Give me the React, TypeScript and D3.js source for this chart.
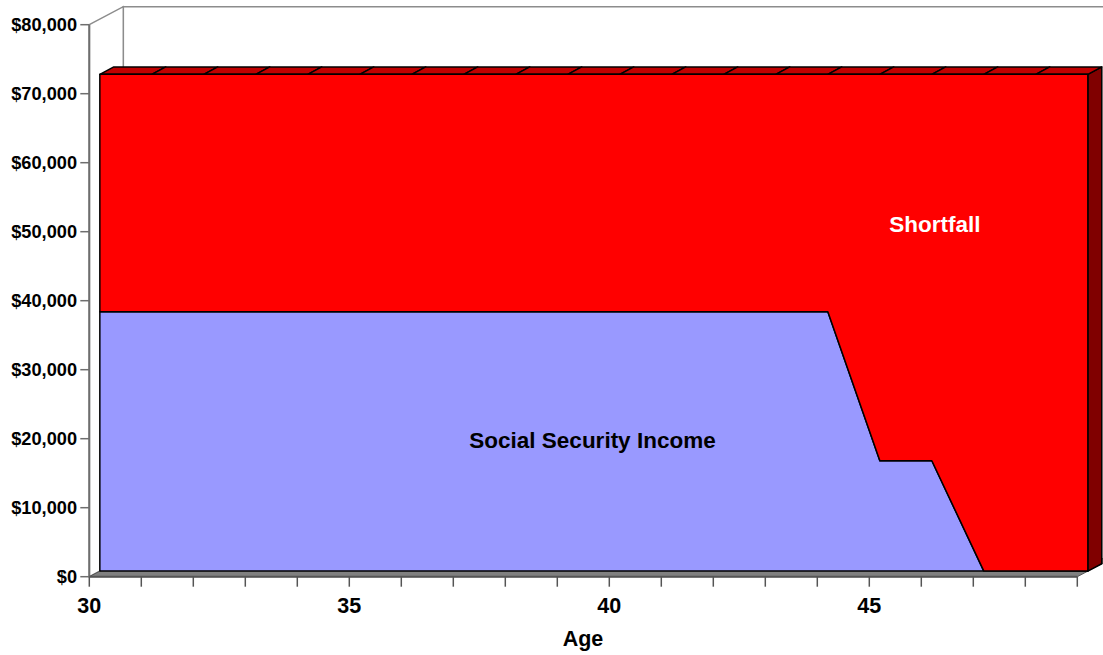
import React from "react";
import * as d3 from "d3";

const ages = [30, 31, 32, 33, 34, 35, 36, 37, 38, 39, 40, 41, 42, 43, 44, 45, 46, 47, 48, 49];
const socialSecurity = [37600, 37600, 37600, 37600, 37600, 37600, 37600, 37600, 37600, 37600, 37600, 37600, 37600, 37600, 37600, 16000, 16000, 0, 0, 0];
const shortfall = [34400, 34400, 34400, 34400, 34400, 34400, 34400, 34400, 34400, 34400, 34400, 34400, 34400, 34400, 34400, 56000, 56000, 72000, 72000, 72000];
const yTicks = [0, 10000, 20000, 30000, 40000, 50000, 60000, 70000, 80000];
const xTickLabels = [30, 35, 40, 45];
const seriesNames = ["Social Security Income", "Shortfall"];

const W = 1103;
const H = 655;
const DX = 34;
const DY = -18;
const FRONT = 0.31;
const BACK = 0.72;
const FONT = "'Liberation Sans', Arial, Helvetica, sans-serif";

export default function App() {
  const x = d3.scaleLinear().domain([30, 49]).range([89.3, 1077.3]);
  const y = d3.scaleLinear().domain([0, 80000]).range([576.7, 24.7]);
  const off = (d: number) => [DX * d, DY * d];
  const [fx, fy] = off(FRONT);
  const [bx, by] = off(BACK);

  const rows = ages.map((a, i) => ({ age: a, ss: socialSecurity[i], sf: shortfall[i] }));
  const stack = d3.stack<any>().keys(["ss", "sf"]);
  const stacked = stack(rows);

  const area = d3
    .area<any>()
    .x((d) => x(d.data.age) + fx)
    .y0((d) => y(d[0]) + fy)
    .y1((d) => y(d[1]) + fy);

  const colors = ["#9999FF", "#FF0000"];
  const top = stacked[1];

  const pt = (age: number, v: number, dx: number, dy: number) => `${x(age) + dx},${y(v) + dy}`;

  const x0 = x(30), x1 = x(49), yb = y(0), yt = y(80000);

  const last = top[top.length - 1];
  const lastAge = last.data.age;

  return (
    <div style={{ position: "absolute", left: 0, top: 0 }}>
      <svg width={W} height={H} style={{ display: "block" }}>
        {/* back wall */}
        <polygon
          points={`${x0 + DX},${yt + DY} ${x1 + DX},${yt + DY} ${x1 + DX},${yb + DY} ${x0 + DX},${yb + DY}`}
          fill="#fff"
          stroke="#8c8c8c"
          strokeWidth={1.5}
        />
        {/* left wall */}
        <polygon
          points={`${x0},${yt} ${x0 + DX},${yt + DY} ${x0 + DX},${yb + DY} ${x0},${yb}`}
          fill="#fff"
          stroke="#8c8c8c"
          strokeWidth={1.5}
        />
        {/* floor */}
        <polygon
          points={`${x0},${yb} ${x1},${yb} ${x1 + DX},${yb + DY} ${x0 + DX},${yb + DY}`}
          fill="#808080"
          stroke="#555"
          strokeWidth={1}
        />
        {/* y axis line */}
        <line x1={x0} y1={yt} x2={x0} y2={yb} stroke="#6e6e6e" strokeWidth={2} />
        {/* grey edge behind side face */}
        <line
          x1={x(lastAge) + bx + 2}
          y1={y(last[1]) + by}
          x2={x(lastAge) + bx + 2}
          y2={y(0) + by}
          stroke="#9a9a9a"
          strokeWidth={2}
        />
        {/* right side face */}
        <polygon
          points={`${pt(lastAge, 0, fx, fy)} ${pt(lastAge, last[1], fx, fy)} ${pt(lastAge, last[1], bx, by)} ${pt(lastAge, 0, bx, by)}`}
          fill="#800000"
          stroke="#000"
          strokeWidth={1.5}
          strokeLinejoin="round"
        />
        {/* top face segments */}
        {top.slice(0, -1).map((d, i) => {
          const n = top[i + 1];
          return (
            <polygon
              key={i}
              points={`${pt(d.data.age, d[1], fx, fy)} ${pt(n.data.age, n[1], fx, fy)} ${pt(n.data.age, n[1], bx, by)} ${pt(d.data.age, d[1], bx, by)}`}
              fill="#C00000"
              stroke="#000"
              strokeWidth={1.5}
              strokeLinejoin="round"
            />
          );
        })}
        {/* front faces */}
        {stacked.map((s, i) => (
          <path key={i} d={area(s) || ""} fill={colors[i]} stroke="#000" strokeWidth={1.5} strokeLinejoin="round" />
        ))}
        {/* x axis */}
        <line x1={x0} y1={yb} x2={x1} y2={yb} stroke="#555" strokeWidth={2} />
        {ages.map((a) => (
          <line key={a} x1={x(a)} y1={yb} x2={x(a)} y2={yb + 10} stroke="#555" strokeWidth={1.5} />
        ))}
        {xTickLabels.map((a) => (
          <text key={a} x={x(a)} y={613} textAnchor="middle" fontFamily={FONT} fontWeight="bold" fontSize={21.5} fill="#000">
            {a}
          </text>
        ))}
        <text x={583} y={646} textAnchor="middle" fontFamily={FONT} fontWeight="bold" fontSize={21.5} fill="#000">
          Age
        </text>
        {/* y ticks */}
        {yTicks.map((v) => (
          <g key={v}>
            <line x1={x0 - 9} y1={y(v)} x2={x0} y2={y(v)} stroke="#6e6e6e" strokeWidth={1.5} />
            <text x={77} y={y(v) + 6.5} textAnchor="end" fontFamily={FONT} fontWeight="bold" fontSize={18.2} fill="#000">
              {d3.format("$,")(v)}
            </text>
          </g>
        ))}
        {/* series labels */}
        <text x={592.5} y={448} textAnchor="middle" fontFamily={FONT} fontWeight="bold" fontSize={22.5} fill="#000">
          {seriesNames[0]}
        </text>
        <text x={935} y={232} textAnchor="middle" fontFamily={FONT} fontWeight="bold" fontSize={22.5} fill="#fff">
          {seriesNames[1]}
        </text>
      </svg>
    </div>
  );
}
